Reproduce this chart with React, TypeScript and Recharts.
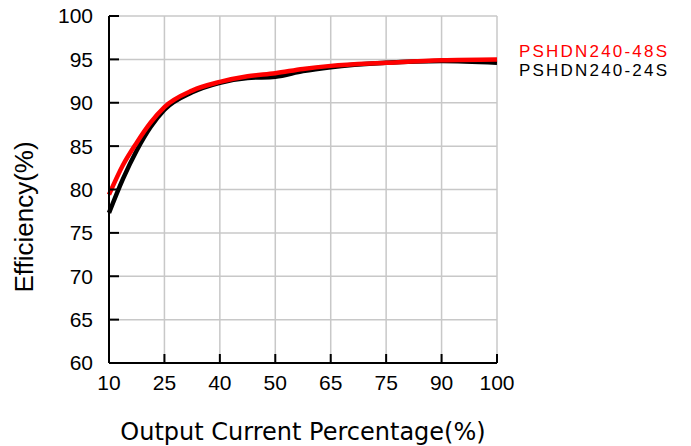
import React from 'react';
import { LineChart, Line, XAxis, YAxis, CartesianGrid, Label } from 'recharts';

// ── Data ───────────────────────────────────────────────────────
// x-axis labels are evenly spaced steps, not a linear percentage scale
const X_LABELS = ['10', '25', '40', '50', '65', '75', '90', '100'];
const X_STEPS = [0, 1, 2, 3, 4, 5, 6, 7];
const Y_TICKS = [60, 65, 70, 75, 80, 85, 90, 95, 100];

// sample positions along the step axis (extra samples where the curve bends)
const STEP_POS = [0, 0.25, 0.5, 0.75, 1, 1.5, 2, 2.5, 3, 3.5, 4, 5, 6, 7];
const EFF_48S = [79.4, 82.8, 85.4, 87.7, 89.5, 91.4, 92.4, 93.05, 93.4, 93.9, 94.25, 94.6, 94.9, 95.0];
const EFF_24S = [77.3, 81.2, 84.5, 87.2, 89.2, 91.2, 92.3, 92.85, 93.0, 93.65, 94.1, 94.6, 94.8, 94.6];

const SERIES = [
  { key: 'psh24', name: 'PSHDN240-24S', color: '#000000', values: EFF_24S },
  { key: 'psh48', name: 'PSHDN240-48S', color: '#ff0000', values: EFF_48S },
];

const data = STEP_POS.map((pos, i) => ({
  pos,
  psh24: EFF_24S[i],
  psh48: EFF_48S[i],
}));

const TICK_FONT = '"Liberation Sans", Arial, sans-serif';
const TITLE_FONT = '"DejaVu Sans", sans-serif';

// ── Chart ──────────────────────────────────────────────────────
export default function App() {
  // legend lists the 48S model first (it is drawn on top)
  const legend = [...SERIES].reverse();
  return (
    <div style={{ position: 'absolute', left: 0, top: 0, width: 691, height: 446, background: '#fff' }}>
      <LineChart
        width={691}
        height={446}
        data={data}
        margin={{ top: 16, right: 194, left: 0, bottom: 0 }}
      >
        <CartesianGrid stroke="#c8c8c8" strokeWidth={1.5} />
        <XAxis
          type="number"
          dataKey="pos"
          domain={[0, 7]}
          ticks={X_STEPS}
          tickFormatter={(v: number) => X_LABELS[v]}
          height={83}
          axisLine={{ stroke: '#000', strokeWidth: 2 }}
          tickLine={{ stroke: '#000', strokeWidth: 2 }}
          tickSize={-9}
          tickMargin={21}
          tick={{ fontSize: 21, fill: '#000', fontFamily: TICK_FONT }}
          interval={0}
        >
          <Label
            value="Output Current Percentage(%)"
            position="insideBottom"
            offset={6}
            style={{ fontSize: 24, fill: '#000', fontFamily: TITLE_FONT }}
          />
        </XAxis>
        <YAxis
          type="number"
          domain={[60, 100]}
          ticks={Y_TICKS}
          width={109}
          axisLine={{ stroke: '#000', strokeWidth: 2 }}
          tickLine={{ stroke: '#000', strokeWidth: 2 }}
          tickSize={-10}
          tickMargin={26}
          tick={{ fontSize: 21, fill: '#000', fontFamily: TICK_FONT }}
          interval={0}
        >
          <Label
            content={() => (
              <text
                x={33}
                y={217}
                transform="rotate(-90 33 217)"
                textAnchor="middle"
                style={{ fontSize: 26, fill: '#000', fontFamily: TICK_FONT }}
              >
                Efficiency(%)
              </text>
            )}
          />
        </YAxis>
        {SERIES.map((s) => (
          <Line
            key={s.key}
            type="monotone"
            dataKey={s.key}
            name={s.name}
            stroke={s.color}
            strokeWidth={4.5}
            dot={false}
            activeDot={false}
            isAnimationActive={false}
          />
        ))}
      </LineChart>
      <div
        style={{
          position: 'absolute', left: 519, top: 42,
          fontFamily: TICK_FONT, fontSize: 17, lineHeight: '19px', letterSpacing: 2.2,
          whiteSpace: 'nowrap',
        }}
      >
        {legend.map((s) => (
          <div key={s.key} style={{ color: s.color, height: 19 }}>{s.name}</div>
        ))}
      </div>
    </div>
  );
}
